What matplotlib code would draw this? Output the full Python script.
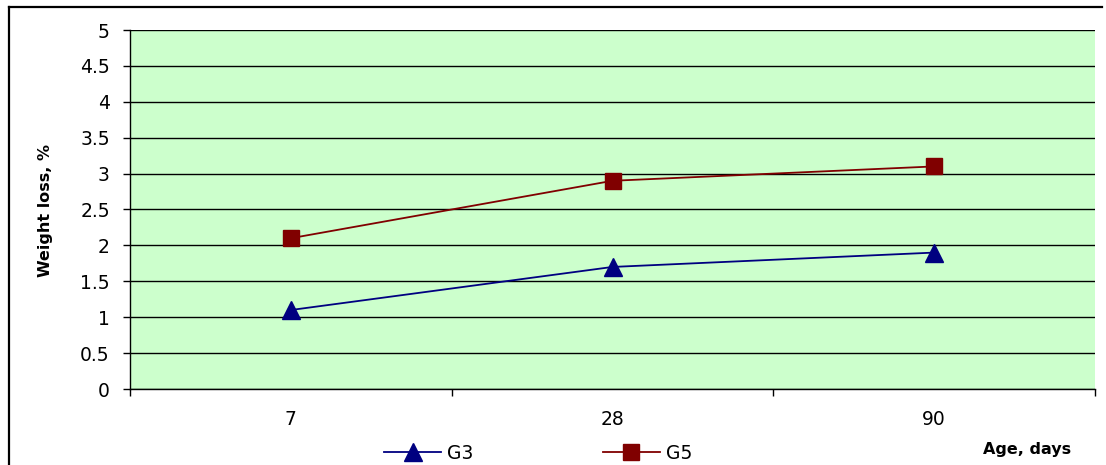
import matplotlib.pyplot as plt
from matplotlib.lines import Line2D

plt.rcParams['font.family'] = ['DejaVu Sans']

ages = ['7', '28', '90']
g3 = [1.1, 1.7, 1.9]
g5 = [2.1, 2.9, 3.1]
yticks = [0, 0.5, 1, 1.5, 2, 2.5, 3, 3.5, 4, 4.5, 5]
ytick_labels = ['0', '0.5', '1', '1.5', '2', '2.5', '3', '3.5', '4', '4.5', '5']

W, H = 1106, 465
fig = plt.figure(figsize=(W / 100, H / 100), dpi=100)
ax = fig.add_axes([130 / W, 1 - 389 / H, 965 / W, 359 / H])
ax.set_facecolor('#CCFFCC')

x = [i + 0.5 for i in range(len(ages))]
ax.plot(x, g3, color='#000080', lw=1.3, marker='^', ms=13, label='G3', zorder=3)
ax.plot(x, g5, color='#800000', lw=1.3, marker='s', ms=11.5, label='G5', zorder=3)

ax.set_xlim(0, len(ages))
ax.set_ylim(0, 5)
ax.set_yticks(yticks)
ax.set_yticklabels(ytick_labels)
ax.yaxis.grid(True, color='black', lw=1)
ax.set_axisbelow(True)

# category labels in the middle, tick marks on the boundaries
ax.set_xticks(x)
ax.set_xticklabels(ages)
ax.set_xticks(range(len(ages) + 1), minor=True)
ax.tick_params(axis='x', which='major', length=0, pad=15, labelsize=13.5)
ax.tick_params(axis='x', which='minor', length=5, width=1, direction='out')
ax.tick_params(axis='y', length=5, width=1, direction='out', pad=9.5, labelsize=13.5)

for s in ['top', 'right']:
    ax.spines[s].set_visible(False)
ax.spines['left'].set_linewidth(1)
ax.spines['bottom'].set_linewidth(1)

fig.text(46 / W, 1 - 210 / H, 'Weight loss, %', fontsize=11.5, fontweight='bold',
         rotation=90, ha='center', va='center')
fig.text(1027 / W, 1 - 449 / H, 'Age, days', fontsize=11.5, fontweight='bold',
         ha='center', va='center')

ax.legend(loc='center left', bbox_to_anchor=(384 / W, 1 - 453 / H), bbox_transform=fig.transFigure,
          ncol=2, frameon=False, fontsize=13.5, handlelength=3.04, columnspacing=6.9,
          handletextpad=0.32, borderpad=0, borderaxespad=0)

# frame drawn around the chart (left and top edges)
fig.add_artist(Line2D([9 / W, 9 / W], [0, 1 - 7 / H], color='black', lw=1.6,
                      transform=fig.transFigure))
fig.add_artist(Line2D([9 / W, 1102 / W], [1 - 7 / H, 1 - 7 / H], color='black', lw=1.6,
                      transform=fig.transFigure))

fig.savefig('out.png', dpi=100)
